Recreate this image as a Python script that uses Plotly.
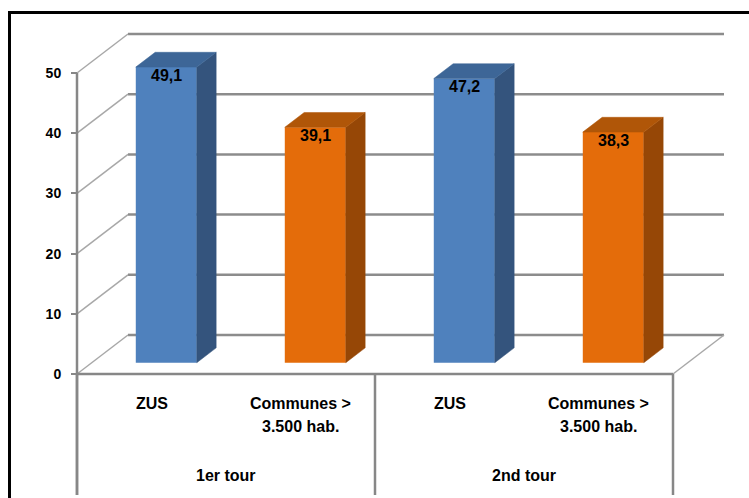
import plotly.graph_objects as go

# ---------------- data ----------------
groups = ["1er tour", "2nd tour"]
sub_labels = [["ZUS"], ["Communes >", "3.500 hab."], ["ZUS"], ["Communes >", "3.500 hab."]]
values = [49.1, 39.1, 47.2, 38.3]
value_text = ["49,1", "39,1", "47,2", "38,3"]
y_ticks = [0, 10, 20, 30, 40, 50]

# ---------------- style / geometry ----------------
W, H = 749, 498
AX_X_PX, UNIT_X_PX = 77, 149.0      # front y-axis position, px per sub-category
ZERO_Y_PX, UNIT_Y_PX = 374, 6.02    # px of value 0, px per value unit
DEPTH_X = 51 / UNIT_X_PX            # back wall offset (x units)
DEPTH_Y = 39 / UNIT_Y_PX            # back wall offset (y units)
BAR_D0, BAR_DL = 0.29, 0.38         # bar depth start / length as fraction of depth
BAR_W = 61 / UNIT_X_PX
Y_BOTTOM = (ZERO_Y_PX - 495) / UNIT_Y_PX

front_cols = ["#4F81BD", "#E46C0A", "#4F81BD", "#E46C0A"]
side_cols = ["#34547D", "#964706", "#34547D", "#964706"]
top_cols = ["#3D6697", "#B05608", "#3D6697", "#B05608"]
GRID = "#8C8C8C"
DIAG = "#A8A8A8"
FRONT = "#878787"
FONT = "Liberation Sans, Arial, sans-serif"

n = len(values)
centers = [i + 0.5 for i in range(n)]
xr = [-AX_X_PX / UNIT_X_PX, (W - AX_X_PX) / UNIT_X_PX]
yr = [(ZERO_Y_PX - H) / UNIT_Y_PX, ZERO_Y_PX / UNIT_Y_PX]

fig = go.Figure()
shapes = []
annotations = []

def line(x0, y0, x1, y1, color, width):
    shapes.append(dict(type="line", xref="x", yref="y", x0=x0, y0=y0, x1=x1, y1=y1,
                       line=dict(color=color, width=width), layer="below"))

# back wall gridlines and side wall diagonals
for t in y_ticks:
    line(DEPTH_X, t + DEPTH_Y, n + DEPTH_X, t + DEPTH_Y, GRID, 2.5)
    line(0, t, DEPTH_X, t + DEPTH_Y, DIAG, 1.5)
# floor right diagonal
line(n, 0, n + DEPTH_X, DEPTH_Y, DIAG, 1.5)
# front floor edge
line(0, 0, n, 0, FRONT, 2.5)
# front y axis line
line(0, Y_BOTTOM, 0, max(y_ticks), FRONT, 2.5)
# group dividers
for g in range(len(groups) + 1):
    line(g * 2, 0, g * 2, Y_BOTTOM, FRONT, 2.5)

# bars: front faces
bx = BAR_D0 * DEPTH_X
by = BAR_D0 * DEPTH_Y
ddx = BAR_DL * DEPTH_X
ddy = BAR_DL * DEPTH_Y
fig.add_trace(go.Bar(
    x=[c + bx for c in centers], y=values, base=[by] * n, width=BAR_W,
    marker=dict(color=front_cols, line=dict(width=0)),
    hoverinfo="skip", showlegend=False))

# side and top faces
for i, (c, v) in enumerate(zip(centers, values)):
    xl = c + bx - BAR_W / 2
    xrt = c + bx + BAR_W / 2
    top = v + by
    fig.add_trace(go.Scatter(
        x=[xrt, xrt + ddx, xrt + ddx, xrt, xrt],
        y=[by, by + ddy, top + ddy, top, by],
        mode="lines", fill="toself", fillcolor=side_cols[i],
        line=dict(width=0.5, color=side_cols[i]), hoverinfo="skip", showlegend=False))
    fig.add_trace(go.Scatter(
        x=[xl, xl + ddx, xrt + ddx, xrt, xl],
        y=[top, top + ddy, top + ddy, top, top],
        mode="lines", fill="toself", fillcolor=top_cols[i],
        line=dict(width=0.5, color=top_cols[i]), hoverinfo="skip", showlegend=False))
    # value label inside top of the bar
    annotations.append(dict(x=c + bx, y=top, xref="x", yref="y", text=value_text[i],
                            showarrow=False, xanchor="center", yanchor="middle", yshift=-8,
                            font=dict(family=FONT, size=16, color="black", weight="bold")))

# category labels
line_y = [(ZERO_Y_PX - 403) / UNIT_Y_PX, (ZERO_Y_PX - 426.5) / UNIT_Y_PX]
for c, lines in zip(centers, sub_labels):
    for k, txt in enumerate(lines):
        annotations.append(dict(x=c, y=line_y[k], xref="x", yref="y", text=txt,
                                showarrow=False, xanchor="center", yanchor="middle",
                                font=dict(family=FONT, size=16, color="black", weight="bold")))
group_y = (ZERO_Y_PX - 475) / UNIT_Y_PX
for g, name in enumerate(groups):
    annotations.append(dict(x=g * 2 + 1, y=group_y, xref="x", yref="y", text=name,
                            showarrow=False, xanchor="center", yanchor="middle",
                            font=dict(family=FONT, size=16, color="black", weight="bold")))

# outer frame (top and left)
shapes.append(dict(type="line", xref="paper", yref="paper", x0=8 / W, x1=1,
                   y0=1 - 12.5 / H, y1=1 - 12.5 / H, line=dict(color="black", width=3)))
shapes.append(dict(type="line", xref="paper", yref="paper", x0=9.5 / W, x1=9.5 / W,
                   y0=0, y1=1 - 11 / H, line=dict(color="black", width=3)))

fig.update_layout(
    width=W, height=H, margin=dict(l=0, r=0, t=0, b=0),
    paper_bgcolor="white", plot_bgcolor="white",
    showlegend=False, shapes=shapes, annotations=annotations,
    xaxis=dict(range=xr, visible=False, fixedrange=True),
    yaxis=dict(range=yr, anchor="free", position=AX_X_PX / W, tickvals=y_ticks,
               ticks="outside", ticklen=6, tickwidth=2, tickcolor=FRONT,
               ticklabelstandoff=7, showgrid=False, zeroline=False, showline=False,
               automargin=False, fixedrange=True,
               tickfont=dict(family=FONT, size=14, color="black", weight="bold")),
)

fig.write_html("out.html")
